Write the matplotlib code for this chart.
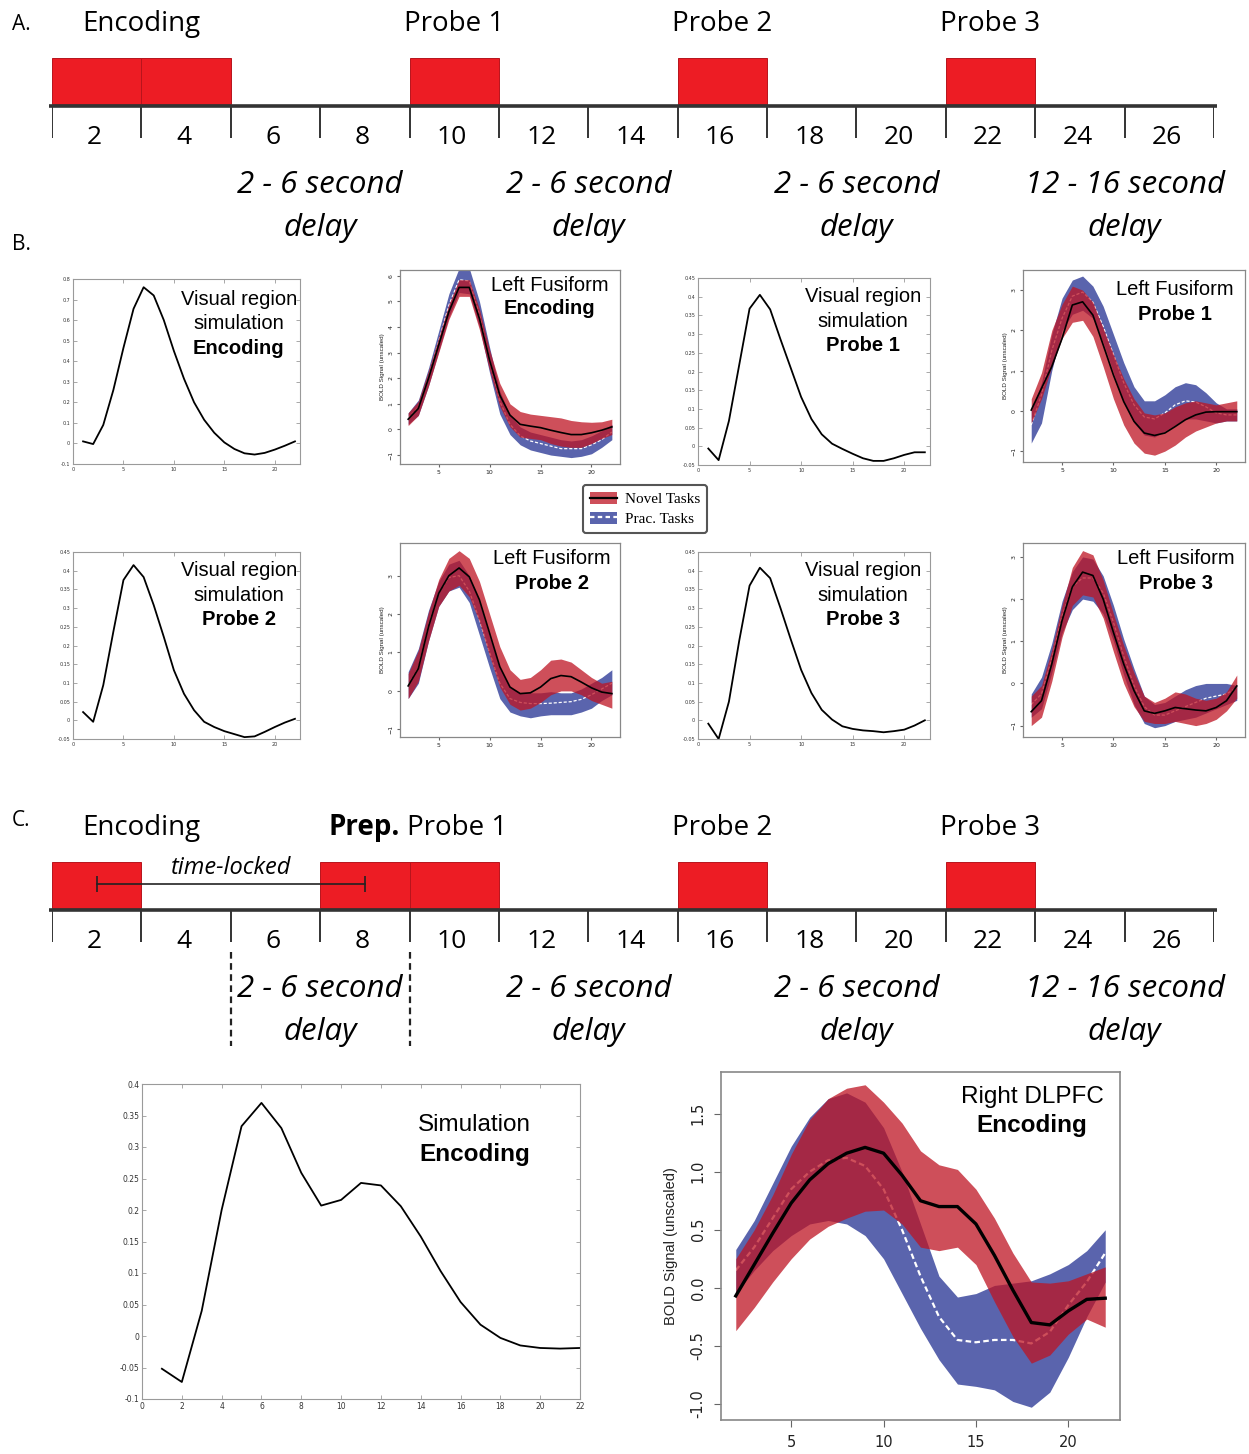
import matplotlib
matplotlib.use('Agg')
import matplotlib.pyplot as plt
from matplotlib.patches import Rectangle, Patch
from matplotlib.lines import Line2D
from matplotlib.ticker import FormatStrFormatter

W, H = 1249, 1454

# ---------------- data ----------------
# timelines (seconds)
sec_ticks = list(range(0, 28, 2))
sec_labels = [str(s) for s in range(2, 28, 2)]
blocks_a = [0, 2, 8, 14, 20]          # onsets of 2-s red blocks, panel A
blocks_c = [0, 6, 8, 14, 20]          # onsets of 2-s red blocks, panel C
block_len = 2
events_a = ['Encoding', 'Probe 1', 'Probe 2', 'Probe 3']
events_a_t = [2, 9, 15, 21]
events_c = ['Encoding', 'Probe 2', 'Probe 3']
events_c_t = [2, 15, 21]
delays = ['2 - 6 second', '2 - 6 second', '2 - 6 second', '12 - 16 second']
delays_t = [6, 12, 18, 24]
locked_span = [1, 7]
delay_marks = [4, 8]

# simulations (t = 1..22)
t_sim = list(range(1, 23))
sim_enc = [0.01, -0.003, 0.09, 0.26, 0.465, 0.655, 0.76, 0.72, 0.6, 0.45, 0.315,
           0.2, 0.115, 0.052, 0.005, -0.027, -0.048, -0.054, -0.046, -0.03, -0.011, 0.01]
sim_p1 = [-0.006, -0.037, 0.068, 0.218, 0.368, 0.405, 0.366, 0.286, 0.209, 0.132, 0.073,
          0.032, 0.007, -0.007, -0.02, -0.032, -0.039, -0.039, -0.032, -0.023, -0.016, -0.016]
sim_p2 = [0.022, -0.004, 0.094, 0.237, 0.375, 0.415, 0.383, 0.308, 0.223, 0.134, 0.071,
          0.027, -0.004, -0.018, -0.029, -0.037, -0.045, -0.043, -0.031, -0.018, -0.006, 0.004]
sim_p3 = [-0.009, -0.05, 0.05, 0.213, 0.36, 0.408, 0.38, 0.30, 0.216, 0.135, 0.073,
          0.028, 0.002, -0.016, -0.023, -0.027, -0.029, -0.032, -0.029, -0.025, -0.014, 0.0]
sim_c = [-0.052, -0.073, 0.04, 0.2, 0.333, 0.37, 0.33, 0.259, 0.207, 0.216, 0.243,
         0.239, 0.206, 0.158, 0.103, 0.054, 0.018, -0.003, -0.015, -0.019, -0.02, -0.019]

# BOLD time courses (t = 2..22)
t_bold = list(range(2, 23))

enc_nov = [0.4, 0.82, 2.0, 3.3, 4.6, 5.55, 5.55, 4.33, 2.7, 1.34, 0.56, 0.2, 0.13, 0.07,
           -0.03, -0.12, -0.2, -0.2, -0.13, -0.03, 0.1]
enc_nov_hi = [0.65, 1.1, 2.3, 3.6, 4.9, 5.85, 5.85, 4.7, 3.1, 1.8, 1.0, 0.7, 0.6, 0.55,
              0.5, 0.45, 0.35, 0.3, 0.28, 0.3, 0.4]
enc_nov_lo = [0.15, 0.55, 1.7, 3.0, 4.3, 5.2, 5.2, 3.9, 2.3, 0.9, 0.1, -0.3, -0.35, -0.4,
              -0.55, -0.65, -0.7, -0.7, -0.55, -0.35, -0.2]
enc_pra = [0.45, 0.85, 2.05, 3.45, 4.85, 5.85, 5.8, 4.5, 2.7, 1.1, 0.2, -0.25, -0.45, -0.55,
           -0.65, -0.75, -0.75, -0.75, -0.6, -0.4, -0.1]
enc_pra_hi = [0.65, 1.15, 2.4, 3.85, 5.3, 6.3, 6.3, 5.0, 3.2, 1.5, 0.55, 0.1, -0.1, -0.2,
              -0.3, -0.4, -0.45, -0.4, -0.25, -0.05, 0.2]
enc_pra_lo = [0.2, 0.55, 1.7, 3.05, 4.4, 5.35, 5.3, 4.0, 2.2, 0.6, -0.2, -0.6, -0.8, -0.9,
              -1.0, -1.05, -1.1, -1.05, -0.95, -0.7, -0.4]

p1_nov = [0.02, 0.56, 1.1, 1.8, 2.63, 2.71, 2.38, 1.64, 0.89, 0.23, -0.26, -0.55, -0.61,
          -0.55, -0.39, -0.22, -0.1, -0.03, -0.02, -0.02, -0.02]
p1_nov_hi = [0.3, 0.95, 2.0, 2.65, 3.1, 3.0, 2.7, 2.05, 1.4, 0.8, 0.3, -0.05, -0.1, -0.05,
             0.1, 0.2, 0.25, 0.2, 0.15, 0.2, 0.25]
p1_nov_lo = [-0.3, 0.3, 1.1, 1.8, 2.2, 2.25, 1.85, 1.1, 0.3, -0.35, -0.8, -1.05, -1.1,
             -1.0, -0.85, -0.65, -0.5, -0.4, -0.3, -0.25, -0.25]
p1_pra = [-0.35, 0.4, 1.5, 2.3, 2.85, 2.95, 2.7, 2.1, 1.4, 0.7, 0.15, -0.15, -0.2, -0.05,
          0.15, 0.25, 0.22, 0.1, -0.05, -0.1, -0.1]
p1_pra_hi = [0.0, 0.7, 1.9, 2.8, 3.25, 3.35, 3.1, 2.6, 1.9, 1.2, 0.6, 0.25, 0.25, 0.4,
             0.6, 0.7, 0.65, 0.45, 0.2, 0.05, 0.05]
p1_pra_lo = [-0.8, -0.3, 1.0, 2.0, 2.4, 2.5, 2.3, 1.7, 0.95, 0.2, -0.3, -0.6, -0.65, -0.5,
             -0.35, -0.2, -0.2, -0.25, -0.3, -0.25, -0.25]

p2_nov = [0.13, 0.58, 1.67, 2.54, 3.0, 3.2, 2.97, 2.37, 1.5, 0.63, 0.1, -0.07, -0.05, 0.1,
          0.32, 0.4, 0.37, 0.23, 0.08, -0.03, -0.07]
p2_nov_hi = [0.45, 1.05, 2.05, 2.9, 3.45, 3.65, 3.45, 2.85, 2.0, 1.15, 0.55, 0.3, 0.35,
             0.55, 0.8, 0.83, 0.75, 0.55, 0.35, 0.2, 0.25]
p2_nov_lo = [-0.2, 0.25, 1.3, 2.2, 2.6, 2.75, 2.45, 1.8, 0.9, 0.1, -0.35, -0.5, -0.45,
             -0.3, -0.1, 0.0, 0.0, -0.1, -0.25, -0.35, -0.45]
p2_pra = [0.15, 0.6, 1.7, 2.55, 2.95, 3.0, 2.6, 1.85, 1.0, 0.2, -0.2, -0.3, -0.33, -0.33,
          -0.32, -0.3, -0.28, -0.22, -0.1, 0.05, 0.2]
p2_pra_hi = [0.5, 1.1, 2.1, 2.85, 3.3, 3.4, 3.0, 2.3, 1.4, 0.6, 0.1, -0.05, -0.05, -0.05,
             -0.02, -0.05, -0.05, 0.05, 0.2, 0.35, 0.55]
p2_pra_lo = [-0.2, 0.2, 1.3, 2.2, 2.6, 2.7, 2.3, 1.45, 0.6, -0.2, -0.55, -0.65, -0.7,
             -0.65, -0.62, -0.62, -0.62, -0.55, -0.45, -0.25, -0.1]

p3_nov = [-0.67, -0.41, 0.46, 1.49, 2.29, 2.64, 2.56, 2.0, 1.21, 0.46, -0.17, -0.65, -0.71,
          -0.65, -0.57, -0.6, -0.63, -0.65, -0.57, -0.41, -0.06]
p3_nov_hi = [-0.3, -0.05, 0.8, 1.85, 2.75, 3.15, 3.05, 2.45, 1.65, 0.9, 0.25, -0.3, -0.45,
             -0.35, -0.2, -0.25, -0.35, -0.4, -0.35, -0.2, 0.2]
p3_nov_lo = [-1.0, -0.8, 0.05, 1.1, 1.85, 2.1, 2.05, 1.55, 0.75, 0.0, -0.55, -0.9, -0.95,
             -0.95, -0.9, -0.95, -1.0, -0.95, -0.85, -0.65, -0.35]
p3_pra = [-0.5, -0.25, 0.6, 1.6, 2.3, 2.5, 2.5, 2.15, 1.45, 0.65, -0.05, -0.55, -0.75,
          -0.75, -0.65, -0.55, -0.45, -0.35, -0.3, -0.25, -0.1]
p3_pra_hi = [-0.25, 0.15, 0.95, 1.95, 2.65, 3.0, 2.95, 2.55, 1.85, 1.05, 0.35, -0.3, -0.5,
             -0.45, -0.3, -0.15, -0.05, 0.0, 0.0, 0.0, -0.05]
p3_pra_lo = [-0.8, -0.6, 0.25, 1.2, 1.75, 2.0, 1.95, 1.65, 1.0, 0.2, -0.5, -0.95, -1.05,
             -1.0, -0.9, -0.85, -0.8, -0.7, -0.6, -0.5, -0.4]

dl_nov = [-0.07, 0.2, 0.47, 0.73, 0.93, 1.07, 1.16, 1.21, 1.16, 0.97, 0.75, 0.70, 0.70,
          0.55, 0.28, -0.02, -0.30, -0.32, -0.2, -0.1, -0.09]
dl_nov_hi = [0.25, 0.5, 0.8, 1.15, 1.45, 1.63, 1.72, 1.75, 1.6, 1.42, 1.18, 1.06, 1.02,
             0.85, 0.6, 0.3, 0.05, 0.04, 0.06, 0.12, 0.18]
dl_nov_lo = [-0.37, -0.17, 0.05, 0.25, 0.42, 0.53, 0.6, 0.66, 0.67, 0.55, 0.35, 0.32, 0.35,
             0.2, -0.12, -0.42, -0.65, -0.58, -0.4, -0.27, -0.34]
dl_pra = [0.15, 0.35, 0.6, 0.85, 1.0, 1.1, 1.12, 1.05, 0.85, 0.5, 0.1, -0.25, -0.45, -0.47,
          -0.45, -0.45, -0.48, -0.38, -0.15, 0.05, 0.3]
dl_pra_hi = [0.33, 0.58, 0.9, 1.22, 1.47, 1.63, 1.68, 1.6, 1.38, 1.0, 0.55, 0.1, -0.08,
             -0.05, 0.02, 0.04, 0.06, 0.12, 0.2, 0.32, 0.5]
dl_pra_lo = [-0.05, 0.15, 0.32, 0.45, 0.55, 0.58, 0.55, 0.45, 0.25, -0.05, -0.35, -0.62,
             -0.83, -0.85, -0.88, -0.98, -1.03, -0.9, -0.6, -0.25, 0.05]

RED = '#be1423'
BLUE = '#5a64ad'
BLOCK = '#ed1c24'
TL_FONT = 'Open Sans'
LBL_FONT = 'Liberation Sans'


def rect(l, t, r, b):
    return [l / W, 1 - b / H, (r - l) / W, (b - t) / H]


fig = plt.figure(figsize=(W / 100, H / 100), dpi=100)


# ---------------- timelines ----------------
def timeline(top, onsets, titles, titles_t):
    ax = fig.add_axes(rect(52, top, 1214, top + 250))
    ax.set_xlim(0, 26)
    ax.set_ylim(250, 0)
    ax.axis('off')
    for on in onsets:
        ax.add_patch(Rectangle((on, 58), block_len, 46, facecolor=BLOCK,
                               edgecolor='#b8141c', lw=0.7))
    ax.plot([-0.06, 26.06], [106, 106], color='#333333', lw=2.6, clip_on=False,
            solid_capstyle='butt')
    ax.vlines(sec_ticks, 106, 138, color='#333333', lw=1.4)
    for s, lab in zip(sec_ticks[:-1], sec_labels):
        ax.text(s + 0.95, 138, lab, ha='center', va='center', fontsize=19, family=TL_FONT)
    for lab, t in zip(titles, titles_t):
        ax.text(t, 24, lab, ha='center', va='center', fontsize=20, family=TL_FONT)
    for lab, t in zip(delays, delays_t):
        ax.text(t, 185, lab, ha='center', va='center', fontsize=22.5, family=TL_FONT,
                style='italic')
        ax.text(t, 228, 'delay', ha='center', va='center', fontsize=22.5, family=TL_FONT,
                style='italic')
    return ax


timeline(0, blocks_a, events_a, events_a_t)
axc = timeline(804, blocks_c, events_c, events_c_t)
axc.text(7.79, 24, 'Prep.', ha='right', va='center', fontsize=20, family=TL_FONT,
         weight='bold')
axc.text(7.94, 24, 'Probe 1', ha='left', va='center', fontsize=20, family=TL_FONT)
axc.plot(locked_span, [80, 80], color='#222222', lw=1.2)
axc.vlines(locked_span, 72, 88, color='#222222', lw=1.2)
axc.text(sum(locked_span) / 2, 64, 'time-locked', ha='center', va='center', fontsize=17,
         family=TL_FONT, style='italic')
axc.vlines(delay_marks, 148, 242, color='#222222', lw=1.6, linestyles=(0, (3, 2)))

for lab, y in [('A.', 24), ('B.', 245), ('C.', 820)]:
    fig.text(12 / W, 1 - y / H, lab, ha='left', va='center', fontsize=15, family=TL_FONT)


# ---------------- panels ----------------
def sim_panel(box, y, ylim, yticks, xlim, xticks, lines, tx, ty, fs_txt, fs_tick):
    ax = fig.add_axes(rect(*box))
    ax.plot(t_sim, y, color='black', lw=1.3)
    ax.set_xlim(*xlim)
    ax.set_ylim(*ylim)
    ax.set_xticks(xticks)
    ax.set_yticks(yticks)
    ax.yaxis.set_major_formatter(FormatStrFormatter('%g'))
    for s in ax.spines.values():
        s.set_color('#9a9a9a')
        s.set_linewidth(0.8)
    ax.tick_params(direction='in', top=True, right=True, labelsize=fs_tick,
                   colors='#9a9a9a', labelcolor='#333333', length=3, width=0.6, pad=2)
    for (txt, bold), yy in zip(lines, ty):
        ax.text(tx, yy, txt, transform=ax.transAxes, ha='center', va='center',
                fontsize=fs_txt, family=LBL_FONT, weight='bold' if bold else 'normal')
    return ax


def bold_panel(box, ylim, yticks, series, lines, tx, ty, fs_txt, fs_tick, big=False):
    nov, nov_lo, nov_hi, pra, pra_lo, pra_hi = series
    ax = fig.add_axes(rect(*box))
    ax.fill_between(t_bold, pra_lo, pra_hi, color=BLUE, lw=0, zorder=1)
    ax.plot(t_bold, pra, color='white', lw=1.6 if big else 0.9, ls=(0, (2.5, 1.5)),
            zorder=1.5)
    ax.fill_between(t_bold, nov_lo, nov_hi, color=RED, alpha=0.75, lw=0, zorder=2)
    ax.plot(t_bold, nov, color='black', lw=2.4 if big else 1.2, zorder=3)
    ax.set_xlim(1.2, 22.8)
    ax.set_ylim(*ylim)
    ax.set_xticks([5, 10, 15, 20])
    ax.set_yticks(yticks)
    if big:
        ax.yaxis.set_major_formatter(FormatStrFormatter('%.1f'))
    for s in ax.spines.values():
        s.set_color('#888888')
        s.set_linewidth(1.2 if big else 0.9)
    ax.tick_params(direction='out', labelsize=fs_tick, colors='#666666',
                   labelcolor='#222222', length=5 if big else 2.5, width=0.8,
                   pad=6 if big else 2)
    plt.setp(ax.get_yticklabels(), rotation=90, va='center')
    ax.set_ylabel('BOLD Signal (unscaled)', fontsize=10.5 if big else 4.5, family=LBL_FONT,
                  color='#222222', labelpad=9 if big else 3)
    for (txt, bold), yy in zip(lines, ty):
        ax.text(tx, yy, txt, transform=ax.transAxes, ha='center', va='center',
                fontsize=fs_txt, family=LBL_FONT, weight='bold' if bold else 'normal')
    return ax


enc_ticks = [round(-0.1 + 0.1 * i, 2) for i in range(10)]
prb_ticks = [round(-0.05 + 0.05 * i, 2) for i in range(11)]
c_ticks = [round(-0.1 + 0.05 * i, 2) for i in range(11)]
sim_x = [0, 5, 10, 15, 20]

sim_panel((73, 279, 300, 464), sim_enc, (-0.1, 0.8), enc_ticks, (0, 22.5), sim_x,
          [('Visual region', False), ('simulation', False), ('Encoding', True)],
          0.73, [0.89, 0.757, 0.627], 14.5, 3.5)
sim_panel((698, 278, 930, 465), sim_p1, (-0.05, 0.45), prb_ticks, (0, 22.5), sim_x,
          [('Visual region', False), ('simulation', False), ('Probe 1', True)],
          0.71, [0.9, 0.77, 0.64], 14.5, 3.5)
sim_panel((73, 552, 300, 739), sim_p2, (-0.05, 0.45), prb_ticks, (0, 22.5), sim_x,
          [('Visual region', False), ('simulation', False), ('Probe 2', True)],
          0.73, [0.9, 0.77, 0.64], 14.5, 3.5)
sim_panel((698, 552, 930, 739), sim_p3, (-0.05, 0.45), prb_ticks, (0, 22.5), sim_x,
          [('Visual region', False), ('simulation', False), ('Probe 3', True)],
          0.71, [0.9, 0.77, 0.64], 14.5, 3.5)
sim_panel((142, 1084, 580, 1399), sim_c, (-0.1, 0.4), c_ticks, (0, 22),
          list(range(0, 23, 2)), [('Simulation', False), ('Encoding', True)],
          0.76, [0.87, 0.775], 17.5, 5.5)

bold_panel((400, 270, 620, 464), (-1.35, 6.23), list(range(-1, 7)),
           (enc_nov, enc_nov_lo, enc_nov_hi, enc_pra, enc_pra_lo, enc_pra_hi),
           [('Left Fusiform', False), ('Encoding', True)], 0.68, [0.92, 0.8], 14.5, 4.5)
bold_panel((1023, 270, 1245, 462), (-1.27, 3.5), list(range(-1, 4)),
           (p1_nov, p1_nov_lo, p1_nov_hi, p1_pra, p1_pra_lo, p1_pra_hi),
           [('Left Fusiform', False), ('Probe 1', True)], 0.685, [0.9, 0.77], 14.5, 4.5)
bold_panel((400, 543, 620, 737), (-1.2, 3.85), list(range(-1, 4)),
           (p2_nov, p2_nov_lo, p2_nov_hi, p2_pra, p2_pra_lo, p2_pra_hi),
           [('Left Fusiform', False), ('Probe 2', True)], 0.69, [0.92, 0.79], 14.5, 4.5)
bold_panel((1023, 543, 1245, 737), (-1.27, 3.33), list(range(-1, 4)),
           (p3_nov, p3_nov_lo, p3_nov_hi, p3_pra, p3_pra_lo, p3_pra_hi),
           [('Left Fusiform', False), ('Probe 3', True)], 0.69, [0.92, 0.79], 14.5, 4.5)
bold_panel((721, 1072, 1120, 1420), (-1.14, 1.86), [-1.0, -0.5, 0.0, 0.5, 1.0, 1.5],
           (dl_nov, dl_nov_lo, dl_nov_hi, dl_pra, dl_pra_lo, dl_pra_hi),
           [('Right DLPFC', False), ('Encoding', True)], 0.78, [0.928, 0.845], 17.5, 10.5,
           big=True)

# legend
h_novel = (Patch(facecolor=RED, alpha=0.75, lw=0), Line2D([], [], color='black', lw=1.6))
h_prac = (Patch(facecolor=BLUE, lw=0), Line2D([], [], color='white', lw=1.6, ls=(0, (2, 1.5))))
leg = fig.legend([h_novel, h_prac], ['Novel Tasks', 'Prac. Tasks'], loc='center',
                 bbox_to_anchor=(645 / W, 1 - 509 / H),
                 prop={'family': 'Liberation Serif', 'size': 11}, fancybox=True,
                 edgecolor='#555555', framealpha=1, handlelength=1.8, handleheight=0.9,
                 handletextpad=0.5, borderpad=0.45, labelspacing=0.35)
leg.get_frame().set_linewidth(1.5)

fig.savefig('out.png', dpi=100)
